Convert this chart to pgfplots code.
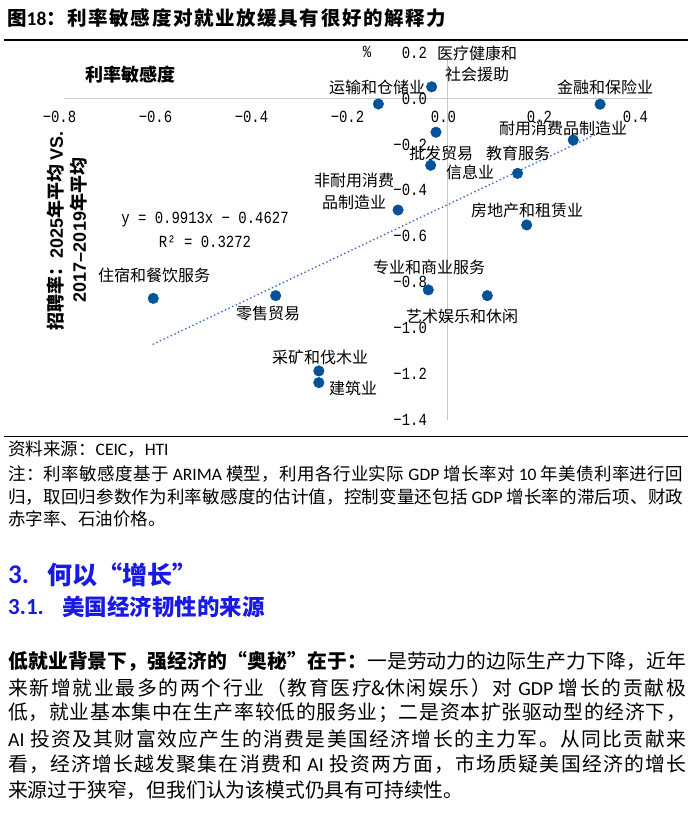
\documentclass[border=0pt]{standalone}
\usepackage{fontspec}
\usepackage{pgfplots}
\pgfplotsset{compat=1.18}
\setmainfont{Noto Sans CJK SC}
\newfontfamily\lat{Carlito}
\newfontfamily\ars{Liberation Sans}
\newfontfamily\num[FakeStretch=0.82]{Liberation Mono}
% inter-character stretch for CJK justification
\XeTeXinterchartokenstate=1
\newXeTeXintercharclass\cjkclass
\makeatletter
\count@="4E00
\loop\XeTeXcharclass\count@=\cjkclass\advance\count@ by 1\ifnum\count@<"9FFF\repeat
\count@="3000
\loop\XeTeXcharclass\count@=\cjkclass\advance\count@ by 1\ifnum\count@<"3040\repeat
\count@="FF00
\loop\XeTeXcharclass\count@=\cjkclass\advance\count@ by 1\ifnum\count@<"FFF0\repeat
\XeTeXcharclass"201C=\cjkclass
\XeTeXcharclass"201D=\cjkclass
\makeatother
\XeTeXinterchartoks\cjkclass\cjkclass={\hskip0pt plus 3pt\relax}
\definecolor{ptblue}{RGB}{0,82,155}
\definecolor{trendblue}{RGB}{68,114,196}
\definecolor{headblue}{RGB}{25,25,230}
\definecolor{axgray}{RGB}{200,200,200}
\begin{document}
\begin{tikzpicture}
\path[use as bounding box] (0,0) rectangle (692pt,-814pt);
\begin{axis}[
  at={(63.5pt,-419.8pt)}, anchor=south west,
  scale only axis, width=584.6pt, height=367.2pt,
  xmin=-0.8, xmax=0.418, ymin=-1.4, ymax=0.2,
  axis lines=middle,
  axis line style={draw=axgray, line width=0.9pt, -},
  major tick length=0pt,
  hide obscured x ticks=false, hide obscured y ticks=false,
  xtick={-0.8,-0.6,-0.4,-0.2,0,0.2,0.4},
  xticklabels={−0.8,−0.6,−0.4,−0.2,0.0,0.2,0.4},
  ytick={-1.4,-1.2,-1.0,-0.8,-0.6,-0.4,-0.2,0,0.2},
  yticklabels={−1.4,−1.2,−1.0,−0.8,−0.6,−0.4,−0.2,0.0,0.2},
  tick label style={font=\num\fontsize{17}{17}\selectfont, text=black},
  xticklabel style={anchor=north, yshift=-9pt, xshift=-4pt},
  yticklabel style={anchor=east, xshift=-17pt},
  clip=false,
]
\addplot[only marks, mark=*, mark size=5.3pt, color=ptblue] coordinates {
(-0.033,0.051) (-0.144,-0.024) (0.318,-0.025) (-0.024,-0.147) (0.262,-0.181)
(-0.035,-0.291) (0.146,-0.326) (-0.103,-0.486) (0.165,-0.551) (-0.040,-0.834)
(0.083,-0.859) (-0.358,-0.859) (-0.613,-0.871) (-0.268,-1.187) (-0.268,-1.238)
};
\addplot[trendblue, line width=2pt, line cap=round, dash pattern=on 0pt off 4pt] coordinates {(-0.613,-1.0704) (0.318,-0.1475)};
\end{axis}
\begin{scope}[x=1pt,y=-1pt, every node/.style={inner sep=0pt}]
% title
\node[anchor=west, font=\bfseries\fontsize{19.5}{19.5}\selectfont] at (7,18) {\makebox[439pt][s]{图{\lat\bfseries 18}：利率敏感度对就业放缓具有很好的解释力}};
\draw[line width=1.2pt] (4,40) -- (688,40);
% chart texts
\node[font=\num\fontsize{17}{17}\selectfont] at (367,52) {\%};
\node[font=\bfseries\fontsize{18}{18}\selectfont] at (130,75) {利率敏感度};
\node[rotate=90, font=\bfseries\fontsize{18}{18}\selectfont] at (56,231) {招聘率：{\ars\bfseries 2025}年平均 {\ars\bfseries VS.}};
\node[rotate=90, font=\bfseries\fontsize{18}{18}\selectfont] at (79,230) {{\ars\bfseries 2017–2019}年平均};
\node[font=\num\fontsize{17}{17}\selectfont] at (205,220) {y = 0.9913x − 0.4627};
\node[font=\num\fontsize{17}{17}\selectfont] at (205,242) {R² = 0.3272};
\begin{scope}[every node/.append style={font=\fontsize{16}{16}\selectfont}]
\node at (477,53) {医疗健康和};
\node at (477,74) {社会援助};
\node at (377,87) {运输和仓储业};
\node at (605,87) {金融和保险业};
\node at (563,128) {耐用消费品制造业};
\node at (441,153) {批发贸易};
\node at (518,153) {教育服务};
\node at (470,172) {信息业};
\node at (354,180) {非耐用消费};
\node at (354,202) {品制造业};
\node at (527,210) {房地产和租赁业};
\node at (429,267) {专业和商业服务};
\node at (462,316) {艺术娱乐和休闲};
\node at (268,313) {零售贸易};
\node at (154,275) {住宿和餐饮服务};
\node at (320,357) {采矿和伐木业};
\node at (353,388) {建筑业};
\end{scope}
\draw[line width=1pt] (4,436) -- (688,436);
% notes
\begin{scope}[every node/.append style={anchor=west, font=\fontsize{17.5}{17.5}\selectfont}]
\node at (8,449) {资料来源：{\lat CEIC}，{\lat HTI}};
\node at (8,474) {\makebox[675pt][s]{注：利率敏感度基于 {\lat ARIMA} 模型，利用各行业实际 {\lat GDP} 增长率对 {\lat 10} 年美债利率进行回}};
\node at (8,497) {\makebox[675pt][s]{归，取回归参数作为利率敏感度的估计值，控制变量还包括 {\lat GDP} 增长率的滞后项、财政}};
\node at (8,519) {赤字率、石油价格。};
\end{scope}
% headings
\node[anchor=west, text=headblue, font=\lat\bfseries\fontsize{27}{27}\selectfont] at (8,575) {3.};
\node[anchor=west, text=headblue, font=\bfseries\fontsize{25}{25}\selectfont] at (47,575) {何以“增长”};
\node[anchor=west, text=headblue, font=\lat\bfseries\fontsize{23}{23}\selectfont] at (8,607) {3.1.};
\node[anchor=west, text=headblue, font=\bfseries\fontsize{22.5}{22.5}\selectfont] at (62,607) {美国经济韧性的来源};
% paragraph
\begin{scope}[every node/.append style={anchor=west, font=\fontsize{19.8}{19.8}\selectfont}]
\node at (8,661) {\makebox[678pt][s]{\textbf{低就业背景下，强经济的“奥秘”在于：}一是劳动力的边际生产力下降，近年}};
\node at (8,688) {\makebox[678pt][s]{来新增就业最多的两个行业（教育医疗\&休闲娱乐）对 {\lat GDP} 增长的贡献极}};
\node at (8,713) {\makebox[678pt][s]{低，就业基本集中在生产率较低的服务业；二是资本扩张驱动型的经济下，}};
\node at (8,739) {\makebox[678pt][s]{{\lat AI} 投资及其财富效应产生的消费是美国经济增长的主力军。从同比贡献来}};
\node at (8,764) {\makebox[678pt][s]{看，经济增长越发聚集在消费和 {\lat AI} 投资两方面，市场质疑美国经济的增长}};
\node at (8,790) {来源过于狭窄，但我们认为该模式仍具有可持续性。};
\end{scope}
\end{scope}
\end{tikzpicture}
\end{document}
